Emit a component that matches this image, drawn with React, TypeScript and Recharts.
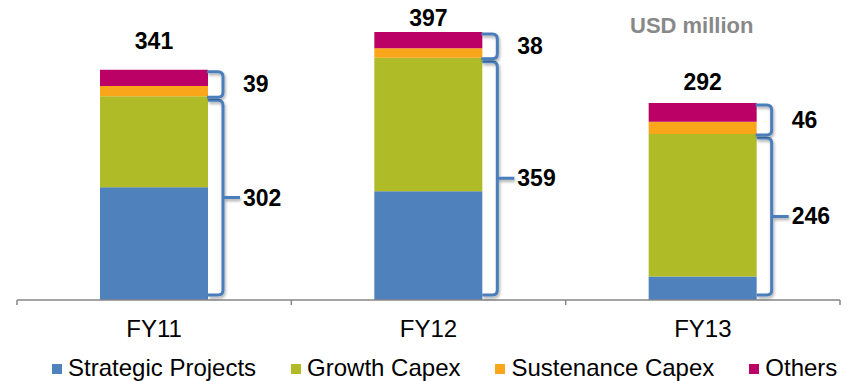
import React from "react";
import { BarChart, Bar, XAxis, YAxis, LabelList } from "recharts";

const years = ["FY11", "FY12", "FY13"];
const strategicProjects = [167, 161, 35];
const growthCapex = [135, 198, 211];
const sustenanceCapex = [15, 14, 18];
const others = [24, 24, 28];
const totals = [341, 397, 292];
const coreTotals = [302, 359, 246];
const otherTotals = [39, 38, 46];

const seriesNames = ["Strategic Projects", "Growth Capex", "Sustenance Capex", "Others"];
const seriesColors = ["#4F81BD", "#AFBC27", "#FAA61A", "#BB0066"];

// how far each total sits above its bar (text boxes were placed by hand)
const totalLift = [29, 14, 21];

const FONT = '"Liberation Sans", Arial, sans-serif';
const BRACKET = "#4A7EBB";
const AXIS = "#868686";

const data = years.map((year, i) => ({
  year,
  strategic: strategicProjects[i],
  growth: growthCapex[i],
  sustenance: sustenanceCapex[i],
  others: others[i],
}));

const bracketPath = (xl: number, xr: number, top: number, bottom: number, nub: boolean) => {
  const r = 5;
  const mid = (top + bottom) / 2;
  let d = `M${xl},${top} L${xr - r},${top} Q${xr},${top} ${xr},${top + r} L${xr},${bottom - r} Q${xr},${bottom} ${xr - r},${bottom} L${xl},${bottom}`;
  if (nub) d += ` M${xr},${mid} L${xr + 17},${mid}`;
  return d;
};

const Bracket = ({ id, xl, xr, top, bottom, nub, text }: any) => (
  <g>
    <defs>
      <filter id={id} x="-50%" y="-10%" width="200%" height="120%">
        <feDropShadow dx="1" dy="2" stdDeviation="1.5" floodColor="#000" floodOpacity="0.35" />
      </filter>
    </defs>
    <path
      d={bracketPath(xl, xr, top, bottom, nub)}
      fill="none"
      stroke={BRACKET}
      strokeWidth={3}
      filter={`url(#${id})`}
    />
    <text
      x={xr + 20}
      y={(top + bottom) / 2}
      dominantBaseline="central"
      fontFamily={FONT}
      fontWeight="bold"
      fontSize={23}
      fill="#000"
    >
      {text}
    </text>
  </g>
);

// lower bracket: from top of growth capex down to the baseline
const CoreBracket = (props: any) => {
  const { x, y, width, height, index } = props;
  const bx = Number(x), by = Number(y), bw = Number(width), bh = Number(height);
  const ppu = bh / growthCapex[index];
  const base = by + bh + strategicProjects[index] * ppu;
  return (
    <Bracket
      id={`sh-core-${index}`}
      xl={bx + bw}
      xr={bx + bw + 15}
      top={by + 4}
      bottom={base - 5}
      nub
      text={coreTotals[index]}
    />
  );
};

// upper bracket: sustenance + others
const OtherBracket = (props: any) => {
  const { x, y, width, height, index } = props;
  const bx = Number(x), by = Number(y), bw = Number(width), bh = Number(height);
  const ppu = bh / others[index];
  const bottom = by + bh + sustenanceCapex[index] * ppu;
  return (
    <Bracket
      id={`sh-other-${index}`}
      xl={bx + bw - 1}
      xr={bx + bw + 15}
      top={by + 2}
      bottom={bottom + 1}
      nub={false}
      text={otherTotals[index]}
    />
  );
};

const TotalLabel = (props: any) => {
  const { x, y, width, index } = props;
  return (
    <text
      x={Number(x) + Number(width) / 2}
      y={Number(y) - totalLift[index]}
      textAnchor="middle"
      dominantBaseline="central"
      fontFamily={FONT}
      fontWeight="bold"
      fontSize={23}
      fill="#000"
    >
      {totals[index]}
    </text>
  );
};

// category label plus tick marks on the category boundaries
const YearTick = (props: any) => {
  const { x, y, payload, index, visibleTicksCount } = props;
  const half = Number(payload.offset) || 0;
  const last = index === (visibleTicksCount ?? years.length) - 1;
  return (
    <g>
      <line x1={x - half} x2={x - half} y1={y} y2={y + 5} stroke={AXIS} strokeWidth={1.5} />
      {last && <line x1={x + half} x2={x + half} y1={y} y2={y + 5} stroke={AXIS} strokeWidth={1.5} />}
      <text x={x} y={y + 37} textAnchor="middle" fontFamily={FONT} fontSize={24} fill="#000">
        {payload.value}
      </text>
    </g>
  );
};

export default function App() {
  return (
    <div style={{ position: "absolute", left: 0, top: 0, width: 855, height: 381, background: "#fff" }}>
      <BarChart
        width={855}
        height={381}
        data={data}
        margin={{ top: 3, right: 15, left: 17, bottom: 41 }}
      >
        <XAxis
          dataKey="year"
          height={40}
          tickSize={0}
          tickMargin={0}
          tickLine={false}
          axisLine={{ stroke: AXIS, strokeWidth: 1.5 }}
          tick={<YearTick />}
        />
        <YAxis hide domain={[0, 440]} />
        <Bar dataKey="strategic" stackId="a" fill={seriesColors[0]} barSize={108} isAnimationActive={false} />
        <Bar dataKey="growth" stackId="a" fill={seriesColors[1]} barSize={108} isAnimationActive={false}>
          <LabelList content={<CoreBracket />} />
        </Bar>
        <Bar dataKey="sustenance" stackId="a" fill={seriesColors[2]} barSize={108} isAnimationActive={false} />
        <Bar dataKey="others" stackId="a" fill={seriesColors[3]} barSize={108} isAnimationActive={false}>
          <LabelList content={<OtherBracket />} />
          <LabelList content={<TotalLabel />} />
        </Bar>
      </BarChart>
      <div
        style={{
          position: "absolute",
          left: 630,
          top: 13,
          fontFamily: FONT,
          fontWeight: "bold",
          fontSize: 22,
          color: "#888888",
        }}
      >
        USD million
      </div>
      <div
        style={{
          position: "absolute",
          left: 52,
          top: 354,
          display: "flex",
          alignItems: "center",
          fontFamily: FONT,
          fontSize: 24,
          color: "#000",
          whiteSpace: "nowrap",
        }}
      >
        {seriesNames.map((name, i) => (
          <div key={name} style={{ display: "flex", alignItems: "center", marginRight: 35 }}>
            <span style={{ width: 10, height: 10, background: seriesColors[i], marginRight: 6, marginTop: 2 }} />
            <span>{name}</span>
          </div>
        ))}
      </div>
    </div>
  );
}
